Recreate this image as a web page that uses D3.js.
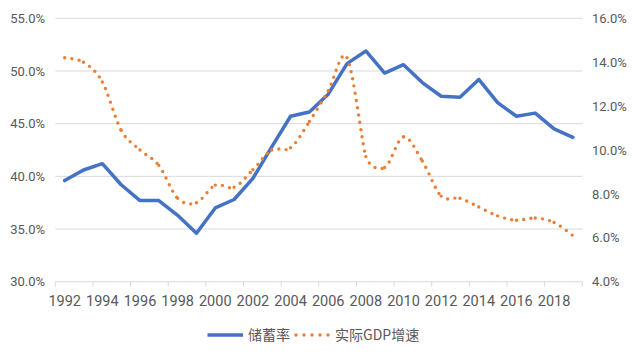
<!DOCTYPE html>
<html><head><meta charset="utf-8">
<script src="https://cdn.jsdelivr.net/npm/d3@7/dist/d3.min.js"></script>
<style>html,body{margin:0;padding:0;background:#fff;}svg{display:block;}</style>
</head><body>
<svg id="chart" width="633" height="360"></svg>
<script>
const years = d3.range(1992, 2020).map(String);
const savingRate = [39.6,40.6,41.2,39.2,37.7,37.7,36.3,34.6,37.0,37.8,39.8,42.8,45.7,46.1,47.8,50.7,51.9,49.8,50.6,48.9,47.6,47.5,49.2,47.0,45.7,46.0,44.5,43.7];
const gdpGrowth = [14.2,14.0,13.1,10.9,10.0,9.3,7.8,7.6,8.4,8.3,9.1,10.0,10.1,11.3,12.7,14.2,9.7,9.2,10.6,9.5,7.9,7.8,7.4,7.0,6.8,6.9,6.7,6.1];
const leftTicks = [30,35,40,45,50,55];
const rightTicks = [4,6,8,10,12,14,16];
const seriesNames = ["储蓄率","实际GDP增速"];

const svg = d3.select("#chart");
const font = "Roboto, 'Noto Sans CJK SC', sans-serif";
const L = 55.3, R = 582.3, T = 18.3, B = 281.7;
const x = d3.scaleBand().domain(years).range([L, R]).padding(0);
const yL = d3.scaleLinear().domain([30,55]).range([B, T]);
const yR = d3.scaleLinear().domain([4,16]).range([B, T]);
const bw = x.bandwidth();
const cx = d => x(d) + bw/2;

// gridlines
svg.append("g").selectAll("line").data(leftTicks.slice(1)).join("line")
  .attr("x1", L).attr("x2", R).attr("y1", d=>yL(d)).attr("y2", d=>yL(d))
  .attr("stroke", "#D9D9D9").attr("stroke-width", 1);
// x axis line
svg.append("line").attr("x1", L).attr("x2", R).attr("y1", B).attr("y2", B)
  .attr("stroke", "#D9D9D9").attr("stroke-width", 1);
// x ticks (between categories, every 2)
const tickPos = years.filter((d,i)=>i%2===0).map(d=>x(d)).concat([R]);
svg.append("g").selectAll("line").data(tickPos).join("line")
  .attr("x1", d=>d).attr("x2", d=>d).attr("y1", B).attr("y2", B+5)
  .attr("stroke", "#D9D9D9").attr("stroke-width", 1);
// x labels
svg.append("g").selectAll("text").data(years.filter((d,i)=>i%2===0)).join("text")
  .attr("x", d=>cx(d)).attr("y", 306)
  .attr("text-anchor","middle").attr("font-family", font).attr("font-size", 14.5)
  .attr("fill", "#595959").text(d=>d);
// left labels
svg.append("g").selectAll("text").data(leftTicks).join("text")
  .attr("x", 45).attr("y", d=>yL(d)).attr("dy","0.36em")
  .attr("text-anchor","end").attr("font-family", font).attr("font-size", 13)
  .attr("fill", "#595959").text(d=>d.toFixed(1)+"%");
// right labels
svg.append("g").selectAll("text").data(rightTicks).join("text")
  .attr("x", 592).attr("y", d=>yR(d)).attr("dy","0.36em")
  .attr("text-anchor","start").attr("font-family", font).attr("font-size", 13)
  .attr("fill", "#595959").text(d=>d.toFixed(1)+"%");

// saving rate line
const line = d3.line().x((d,i)=>cx(years[i])).y(d=>yL(d));
svg.append("path").datum(savingRate).attr("d", line)
  .attr("fill","none").attr("stroke","#4472C4").attr("stroke-width",3.5)
  .attr("stroke-linejoin","round").attr("stroke-linecap","round");

// GDP growth: Excel-like smoothed dotted line; dot pattern restarts at each point
const P = gdpGrowth.map((v,i)=>[cx(years[i]), yR(v)]);
const dist = (a,b)=>Math.hypot(a[0]-b[0], a[1]-b[1]);
const n = P.length;
// handle vector at each point
const H = P.map((p,i)=>{
  const pPrev = P[Math.max(0,i-1)], pNext = P[Math.min(n-1,i+1)];
  const d02 = dist(pPrev,pNext), d01 = dist(pPrev,p), d12 = dist(p,pNext);
  if (d02 === 0) return [0,0];
  let len = d02/6;
  if (i>0) len = Math.min(len, d01/2);
  if (i<n-1) len = Math.min(len, d12/2);
  const f = len/d02;
  return [(pNext[0]-pPrev[0])*f, (pNext[1]-pPrev[1])*f];
});
const g2 = svg.append("g");
for (let i=0;i<n-1;i++){
  const p1 = P[i], p2 = P[i+1];
  const c1 = [p1[0]+H[i][0], p1[1]+H[i][1]];
  const c2 = [p2[0]-H[i+1][0], p2[1]-H[i+1][1]];
  const p = d3.path();
  p.moveTo(p1[0],p1[1]);
  p.bezierCurveTo(c1[0],c1[1],c2[0],c2[1],p2[0],p2[1]);
  g2.append("path").attr("d", p.toString())
    .attr("fill","none").attr("stroke","#ED7D31").attr("stroke-width",3.4)
    .attr("stroke-linecap","round").attr("stroke-dasharray","0 7.3");
}

// legend
const lg = svg.append("g");
lg.append("line").attr("x1",207.5).attr("x2",243).attr("y1",335).attr("y2",335)
  .attr("stroke","#4472C4").attr("stroke-width",3.5);
lg.append("text").attr("x",248).attr("y",335).attr("dy","0.36em")
  .attr("font-family", "'Noto Sans CJK SC', sans-serif").attr("font-size",14)
  .attr("fill","#595959").text(seriesNames[0]);
lg.append("line").attr("x1",296).attr("x2",329).attr("y1",335).attr("y2",335)
  .attr("stroke","#ED7D31").attr("stroke-width",3.4)
  .attr("stroke-linecap","round").attr("stroke-dasharray","0 8");
lg.append("text").attr("x",335).attr("y",335).attr("dy","0.36em")
  .attr("font-family", "'Noto Sans CJK SC', sans-serif").attr("font-size",14)
  .attr("fill","#595959").text(seriesNames[1]);
</script>
</body></html>
